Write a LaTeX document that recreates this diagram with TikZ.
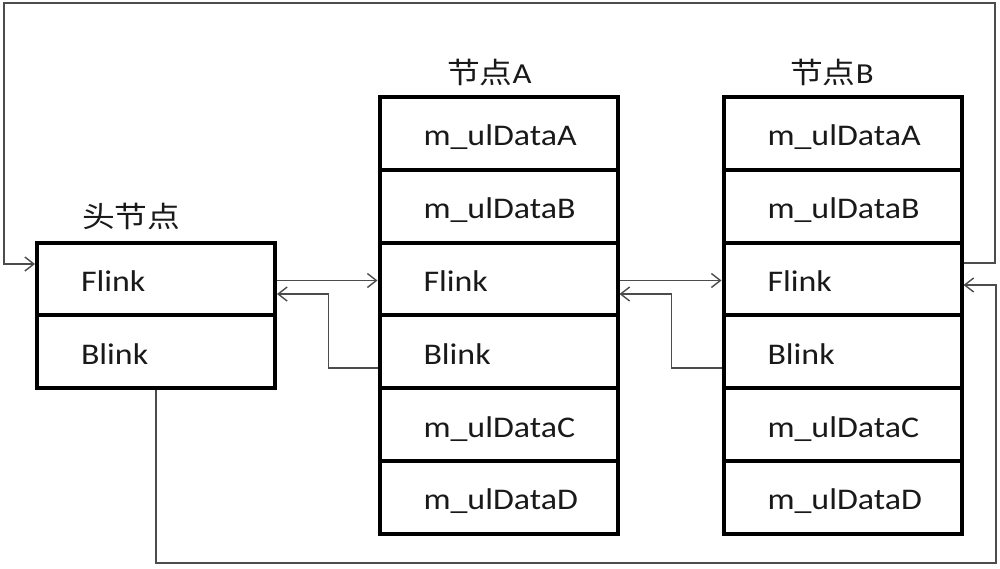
\documentclass[tikz,border=0pt]{standalone}
\usepackage{fontspec}
\setmainfont{Carlito}[FakeStretch=1.13]
\newfontfamily\cjk{Noto Sans CJK SC}[FakeStretch=1.13]
\usetikzlibrary{arrows.meta}
\begin{document}
\begin{tikzpicture}[x=1pt,y=-1pt,
  cell/.style={draw=black, line width=4pt, rectangle, minimum width=238pt,
    minimum height=72.8pt, inner xsep=44pt, inner ysep=0pt, text width=150pt,
    align=left, text height=27pt, text depth=2pt, text=black!90,
    font=\fontsize{30}{36}\selectfont},
  conn/.style={draw=black!70, line width=1.4pt, -{Straight Barb[length=9pt,width=14pt]}},
  lbl/.style={anchor=base west, inner sep=0pt, text=black!90, font=\fontsize{29}{34}\selectfont}]
\useasboundingbox (0,0) rectangle (1000,568);

% head node
\node[cell] (HF) at (156,279) {Flink};
\node[cell] (HB) at (156,351.8) {Blink};
\node[lbl] (labH) at (82,227) {\cjk 头节点};

% node A
\node[cell] (A1) at (498.5,133.4) {m\_ulDataA};
\node[cell] (A2) at (498.5,206.2) {m\_ulDataB};
\node[cell] (AF) at (498.5,279.0) {Flink};
\node[cell] (AB) at (498.5,351.8) {Blink};
\node[cell] (A5) at (498.5,424.6) {m\_ulDataC};
\node[cell] (A6) at (498.5,497.4) {m\_ulDataD};
\node[lbl] (labA) at (447,83) {{\cjk 节点}A};

% node B
\node[cell] (B1) at (842.5,133.4) {m\_ulDataA};
\node[cell] (B2) at (842.5,206.2) {m\_ulDataB};
\node[cell] (BF) at (842.5,279.0) {Flink};
\node[cell] (BB) at (842.5,351.8) {Blink};
\node[cell] (B5) at (842.5,424.6) {m\_ulDataC};
\node[cell] (B6) at (842.5,497.4) {m\_ulDataD};
\node[lbl] (labB) at (790,83) {{\cjk 节点}B};

% corner coordinates
\coordinate (tr) at (995,3);
\coordinate (tl) at (4,3);
\coordinate (br) at (996,563);

% connectors
\draw[conn] ([yshift=16pt]BF.east) -| (tr) -| (tl) |- ([yshift=15pt]HF.west);
\draw[conn] ([yshift=-1.5pt]HF.east) -- ([yshift=-1.5pt]AF.west);
\draw[conn] ([yshift=-16pt]AB.west) -- ++(-49,0) |- ([yshift=-15pt]HF.east);
\draw[conn] ([yshift=-1.5pt]AF.east) -- ([yshift=-1.5pt]BF.west);
\draw[conn] ([yshift=-16pt]BB.west) -- ++(-50,0) |- ([yshift=-15pt]AF.east);
\draw[conn] (HB.south) |- (br) |- ([yshift=-6pt]BF.east);
\end{tikzpicture}
\end{document}
